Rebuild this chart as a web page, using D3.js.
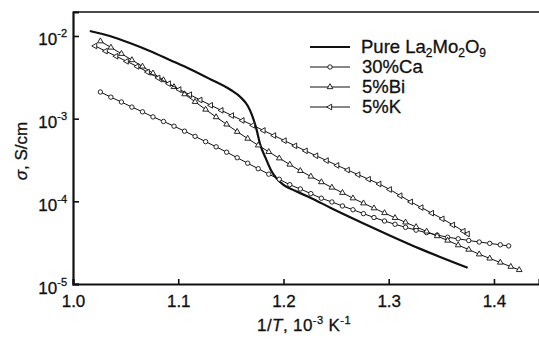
<!DOCTYPE html>
<html>
<head>
<meta charset="utf-8">
<script src="https://cdn.jsdelivr.net/npm/d3@7"></script>
<style>
  body { margin:0; background:#fff; }
  svg text { font-family: Arial, "Liberation Sans", Helvetica, sans-serif; fill:#111; stroke:#111; stroke-width:0.3px; }
</style>
</head>
<body>
<div id="canvas"></div>
<script>
// values (1/T in 10^-3 K^-1, sigma in S/cm)
var pureX = [1.016,1.035,1.054,1.073,1.092,1.111,1.130,1.150,1.159,1.166,1.170,1.174,1.178,1.183,1.188,1.193,1.200,1.211,1.226,1.245,1.273,1.302,1.330,1.375];
var pureY = [1.15e-2,1.00e-2,8.23e-3,6.59e-3,5.13e-3,3.99e-3,3.02e-3,2.22e-3,1.83e-3,1.43e-3,1.11e-3,7.73e-4,4.81e-4,3.35e-4,2.40e-4,1.92e-4,1.58e-4,1.34e-4,1.10e-4,8.32e-5,5.64e-5,3.82e-5,2.66e-5,1.57e-5];

var caX = [1.026,1.036,1.046,1.056,1.066,1.076,1.086,1.096,1.106,1.116,1.126,1.136,1.146,1.156,1.166,1.176,1.186,1.196,1.206,1.216,
           1.226,1.236,1.246,1.256,1.266,1.276,1.286,1.296,1.306,1.316,1.326,1.336,1.346,1.356,1.366,1.376,1.386,1.396,1.406,1.414];
var caY = [2.10e-3,1.82e-3,1.59e-3,1.38e-3,1.21e-3,1.05e-3,9.25e-4,8.11e-4,7.06e-4,6.11e-4,5.27e-4,4.56e-4,3.93e-4,3.37e-4,2.89e-4,2.48e-4,2.13e-4,1.85e-4,1.59e-4,1.41e-4,
           1.24e-4,1.09e-4,9.82e-5,8.79e-5,7.91e-5,7.10e-5,6.37e-5,5.78e-5,5.28e-5,4.85e-5,4.48e-5,4.18e-5,3.91e-5,3.68e-5,3.52e-5,3.36e-5,3.22e-5,3.10e-5,2.98e-5,2.89e-5];

var biX = [1.026,1.036,1.046,1.056,1.066,1.076,1.086,1.096,1.106,1.116,1.126,1.136,1.146,1.156,1.166,1.176,1.186,1.196,1.206,1.216,
           1.226,1.236,1.246,1.256,1.266,1.276,1.286,1.296,1.306,1.316,1.326,1.336,1.346,1.356,1.366,1.376,1.386,1.396,1.406,1.416,1.424];
var biY = [8.65e-3,7.26e-3,6.10e-3,5.12e-3,4.28e-3,3.54e-3,2.93e-3,2.42e-3,1.98e-3,1.60e-3,1.29e-3,1.045e-3,8.53e-4,6.95e-4,5.74e-4,4.76e-4,3.97e-4,3.32e-4,2.79e-4,2.34e-4,
           2.00e-4,1.71e-4,1.47e-4,1.27e-4,1.09e-4,9.48e-5,8.26e-5,7.23e-5,6.31e-5,5.57e-5,4.90e-5,4.33e-5,3.80e-5,3.36e-5,2.95e-5,2.61e-5,2.29e-5,2.04e-5,1.82e-5,1.62e-5,1.48e-5];

var kX = [1.021,1.031,1.041,1.051,1.061,1.071,1.081,1.091,1.101,1.111,1.121,1.131,1.141,1.151,1.161,1.171,1.181,1.191,1.201,1.211,
          1.221,1.231,1.241,1.251,1.261,1.271,1.281,1.291,1.301,1.311,1.321,1.331,1.341,1.351,1.361,1.371,1.375];
var kY = [7.57e-3,6.56e-3,5.69e-3,4.93e-3,4.28e-3,3.66e-3,3.11e-3,2.65e-3,2.25e-3,1.95e-3,1.68e-3,1.45e-3,1.26e-3,1.09e-3,9.51e-4,8.30e-4,7.19e-4,6.25e-4,5.42e-4,4.69e-4,
          4.08e-4,3.56e-4,3.11e-4,2.72e-4,2.39e-4,2.10e-4,1.85e-4,1.62e-4,1.39e-4,1.17e-4,9.84e-5,8.41e-5,7.19e-5,6.14e-5,5.18e-5,4.35e-5,4.03e-5];

var xTicks = [1.0,1.1,1.2,1.3,1.4];
var yTicks = [1e-5,1e-4,1e-3,1e-2];
var legendNames = ['Pure','30%Ca','5%Bi','5%K'];

var W = 539, H = 341;
var m = {t:12, r:0, b:57, l:73};
var w = W - m.l - m.r, h = H - m.t - m.b;

var svg = d3.select('#canvas').append('svg')
    .attr('width', W).attr('height', H);
var plot = svg.append('g')
    .attr('transform','translate(' + m.l + ',' + m.t + ')');

var scaleX = d3.scaleLinear().domain([1.0, 1.4428]).range([0, w]);
var scaleY = d3.scaleLog().domain([1e-5, 1.95e-2]).range([h, 0]);

function zip(xs, ys){ return xs.map(function(x,i){ return {x:x, y:ys[i]}; }); }

var line = d3.line()
    .x(function(d){ return scaleX(d.x); })
    .y(function(d){ return scaleY(d.y); })
    .curve(d3.curveMonotoneX);

// frame
plot.append('line').attr('x1',0).attr('x2',w).attr('y1',0).attr('y2',0)
    .attr('stroke','#111').attr('stroke-width',1.6);

// axes
var axisX = d3.axisBottom(scaleX).tickValues(xTicks).tickSize(-5).tickFormat(d3.format('.1f'));
var gx = plot.append('g').attr('transform','translate(0,' + h + ')').call(axisX);
gx.select('.domain').attr('stroke','#111').attr('stroke-width',2.2);
gx.selectAll('.tick line').attr('stroke','#111').attr('stroke-width',1.6);
gx.selectAll('.tick text').attr('dy','1.15em').attr('font-size',17).attr('fill','#111');

var axisY = d3.axisLeft(scaleY).tickValues(yTicks).tickSize(-6).tickFormat('');
var gy = plot.append('g').call(axisY);
gy.select('.domain').attr('stroke','#111').attr('stroke-width',2.2);
gy.selectAll('.tick line').attr('stroke','#111').attr('stroke-width',1.6);

var yl = gy.selectAll('.tick').append('text')
    .attr('x',-6).attr('y',9).attr('text-anchor','end').attr('font-size',17).attr('fill','#111');
yl.append('tspan').text('10');
yl.append('tspan').attr('font-size',11).attr('dy',-8)
    .text(function(d){ return '-' + Math.round(-Math.log10(d)); });

// series
var series = [
  {name:'pure', data:zip(pureX,pureY), width:2.2, sym:null},
  {name:'ca', data:zip(caX,caY), width:1, sym:'circle'},
  {name:'bi', data:zip(biX,biY), width:1, sym:'up'},
  {name:'k', data:zip(kX,kY), width:1, sym:'left'}
];

function marker(sel, sym){
  if (sym === 'circle') {
    sel.append('circle').attr('r',2.2);
  } else {
    sel.append('path').attr('d', d3.symbol().type(d3.symbolTriangle).size(14)())
       .attr('transform', sym === 'left' ? 'rotate(-90)' : null);
  }
  sel.selectAll('circle,path').attr('fill','#fff').attr('stroke','#111').attr('stroke-width',0.9);
}

series.forEach(function(s){
  plot.append('path').datum(s.data)
      .attr('d', line).attr('fill','none')
      .attr('stroke','#111').attr('stroke-width', s.width);
  if (s.sym) {
    plot.selectAll('.m-' + s.name).data(s.data).enter()
      .append('g').attr('class','m-' + s.name)
      .attr('transform', function(d){ return 'translate(' + scaleX(d.x) + ',' + scaleY(d.y) + ')'; })
      .each(function(){ marker(d3.select(this), s.sym); });
  }
});

// legend
var leg = svg.append('g').attr('transform','translate(310,47)');
series.forEach(function(s,i){
  var g = leg.append('g').attr('transform','translate(0,' + (i*20) + ')');
  g.append('line').attr('x1',0).attr('x2',40).attr('y1',0).attr('y2',0)
    .attr('stroke','#111').attr('stroke-width', s.width);
  if (s.sym) {
    var mg = g.append('g').attr('transform','translate(20,0)');
    marker(mg, s.sym);
  }
});
var lt = leg.append('text').attr('x',51).attr('y',6).attr('font-size',18.5);
lt.append('tspan').text('Pure La');
lt.append('tspan').attr('font-size',12).attr('dy',4).text('2');
lt.append('tspan').attr('dy',-4).text('Mo');
lt.append('tspan').attr('font-size',12).attr('dy',4).text('2');
lt.append('tspan').attr('dy',-4).text('O');
lt.append('tspan').attr('font-size',12).attr('dy',4).text('9');
legendNames.slice(1).forEach(function(n,i){
  leg.append('text').attr('x',52).attr('y',6 + (i+1)*20).attr('font-size',18.5).text(n);
});

// axis titles
var xt = svg.append('text').attr('x',304).attr('y',331)
    .attr('text-anchor','middle').attr('font-size',17).attr('letter-spacing',0.4);
xt.append('tspan').text('1/');
xt.append('tspan').attr('font-style','italic').text('T');
xt.append('tspan').text(', 10');
xt.append('tspan').attr('font-size',11).attr('dy',-7).text('-3');
xt.append('tspan').attr('dy',7).text(' K');
xt.append('tspan').attr('font-size',11).attr('dy',-7).text('-1');

var yt = svg.append('text').attr('transform','translate(27,151) rotate(-90)')
    .attr('text-anchor','middle').attr('font-size',17);
yt.append('tspan').attr('font-style','italic').text('σ');
yt.append('tspan').text(', S/cm');
</script>
</body>
</html>
